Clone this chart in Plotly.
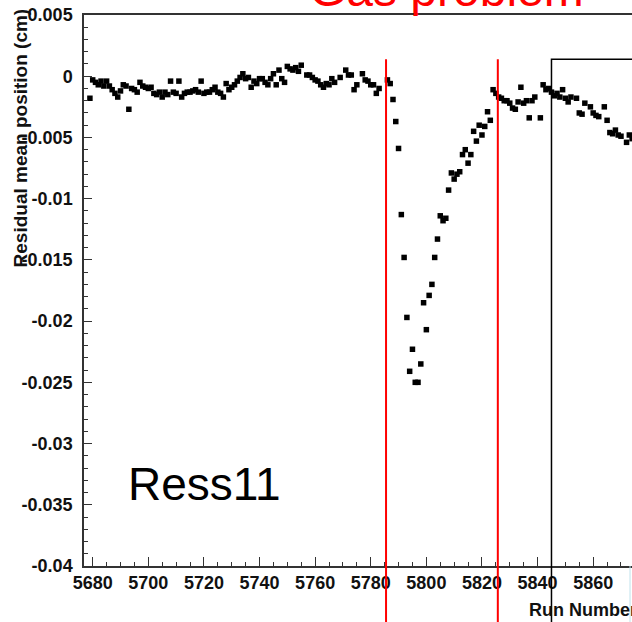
import plotly.graph_objects as go

# ---- data ----
runs = [
    5679, 5680, 5681, 5682, 5683, 5684, 5685, 5686, 5687, 5688, 5689, 5690,
    5691, 5692, 5693, 5694, 5695, 5696, 5697, 5698, 5699, 5700, 5701, 5702,
    5703, 5704, 5705, 5706, 5707, 5708, 5709, 5710, 5711, 5712, 5713, 5714,
    5715, 5716, 5717, 5718, 5719, 5720, 5721, 5722, 5723, 5724, 5725, 5726,
    5727, 5728, 5729, 5730, 5731, 5732, 5733, 5734, 5735, 5736, 5737, 5738,
    5739, 5740, 5741, 5742, 5743, 5744, 5745, 5746, 5747, 5748, 5749, 5750,
    5751, 5752, 5753, 5754, 5755, 5757, 5758, 5759, 5760, 5761, 5762, 5763,
    5764, 5765, 5766, 5767, 5769, 5771, 5772, 5773, 5774, 5775, 5777, 5778,
    5779, 5780, 5781, 5782, 5783, 5786, 5787, 5788, 5789, 5790, 5791, 5792,
    5793, 5794, 5795, 5796, 5797, 5798, 5799, 5800, 5801, 5802, 5803, 5804,
    5805, 5806, 5807, 5808, 5809, 5810, 5811, 5812, 5813, 5814, 5815, 5816,
    5817, 5818, 5819, 5820, 5821, 5822, 5823, 5824, 5825, 5826, 5827, 5828,
    5829, 5830, 5831, 5832, 5833, 5834, 5835, 5836, 5837, 5838, 5839, 5841,
    5842, 5843, 5844, 5845, 5846, 5847, 5848, 5849, 5850, 5851, 5852, 5854,
    5855, 5856, 5857, 5859, 5860, 5861, 5862, 5864, 5865, 5866, 5867, 5868,
    5869, 5870, 5872, 5873, 5874,
]
residual_mean = [
    -0.0018, -0.0003, -0.0005, -0.0007, -0.0004, -0.0008, -0.0004, -0.0008,
    -0.0011, -0.0014, -0.0017, -0.0012, -0.0007, -0.0008, -0.0027, -0.0010,
    -0.0011, -0.0013, -0.0005, -0.0008, -0.0009, -0.0010, -0.0009, -0.0014,
    -0.0015, -0.0013, -0.0017, -0.0013, -0.0015, -0.0004, -0.0013, -0.0014,
    -0.0004, -0.0017, -0.0014, -0.0013, -0.0013, -0.0012, -0.0011, -0.0013,
    -0.0004, -0.0014, -0.0013, -0.0013, -0.0011, -0.0009, -0.0013, -0.0014,
    -0.0017, -0.0006, -0.0011, -0.0009, -0.0007, -0.0004, -0.0001, 0.0002,
    -0.0002, -0.0001, -0.0009, -0.0004, -0.0006, -0.0002, -0.0002, -0.0005,
    -0.0007, -0.0002, 0.0002, -0.0007, 0.0005, -0.0002, -0.0005, 0.0008,
    0.0006, 0.0005, 0.0007, 0.0004, 0.0009, 0.0001, 0.0001, -0.0001,
    -0.0003, -0.0004, -0.0007, -0.0009, -0.0006, -0.0007, -0.0002, -0.0005,
    -0.0001, 0.0005, 0.0001, 0.0001, -0.0011, -0.0007, 0.0002, -0.0003,
    -0.0004, -0.0007, -0.0007, -0.0014, -0.0010, -0.0003, -0.0006, -0.0019,
    -0.0037, -0.0059, -0.0113, -0.0148, -0.0197, -0.0241, -0.0223, -0.0250,
    -0.0250, -0.0235, -0.0185, -0.0207, -0.0179, -0.0170, -0.0148, -0.0133,
    -0.0114, -0.0118, -0.0116, -0.0093, -0.0079, -0.0084, -0.0080, -0.0078,
    -0.0064, -0.0060, -0.0071, -0.0064, -0.0045, -0.0053, -0.0040, -0.0048,
    -0.0041, -0.0029, -0.0036, -0.0011, -0.0014, -0.0017, -0.0018, -0.0020,
    -0.0020, -0.0022, -0.0026, -0.0027, -0.0021, -0.0009, -0.0022, -0.0020,
    -0.0034, -0.0020, -0.0017, -0.0034, -0.0007, -0.0011, -0.0010, -0.0013,
    -0.0016, -0.0014, -0.0017, -0.0011, -0.0018, -0.0021, -0.0017, -0.0018,
    -0.0030, -0.0031, -0.0022, -0.0025, -0.0030, -0.0032, -0.0033, -0.0025,
    -0.0036, -0.0046, -0.0047, -0.0044, -0.0048, -0.0049, -0.0054, -0.0048,
    -0.0051,
]

gas_problem_bounds = [5785.5, 5825.7]   # red vertical lines (run numbers)
box_start_run = 5845.0                   # black box left edge (run number)

x_tick_vals = [5680, 5700, 5720, 5740, 5760, 5780, 5800, 5820, 5840, 5860]
y_tick_vals = [-0.04, -0.035, -0.03, -0.025, -0.02, -0.015, -0.01, -0.005, 0, 0.005]
y_tick_text = ["-0.04", "-0.035", "-0.03", "-0.025", "-0.02", "-0.015",
               "-0.01", "-0.005", "0", "0.005"]

FONT = "Liberation Sans, Arial, sans-serif"
AX = "#333333"

fig = go.Figure()
fig.add_trace(go.Scatter(
    x=runs, y=residual_mean, mode="markers",
    marker=dict(symbol="square", size=5.5, color="black", line=dict(width=0)),
    showlegend=False, hoverinfo="skip",
))

fig.update_layout(
    width=632, height=622,
    margin=dict(l=84, r=0, t=15, b=56),
    paper_bgcolor="white", plot_bgcolor="white",
    font=dict(family=FONT, color="#111111"),
)

fig.update_xaxes(
    range=[5676.87, 5873.96],
    tickmode="array", tickvals=x_tick_vals,
    ticks="inside", ticklen=9, tickwidth=1, tickcolor=AX,
    minor=dict(dtick=5, tick0=5680, ticks="inside", ticklen=4, tickcolor=AX, showgrid=False),
    showline=True, linecolor=AX, linewidth=1.5, mirror=True,
    showgrid=False, zeroline=False,
    tickfont=dict(family=FONT, size=18, color="#111111", weight="bold"),
)
fig.update_yaxes(
    range=[-0.04, 0.005],
    tickmode="array", tickvals=y_tick_vals, ticktext=y_tick_text,
    ticks="inside", ticklen=8, tickwidth=1, tickcolor=AX,
    minor=dict(dtick=0.001, tick0=0, ticks="inside", ticklen=4, tickcolor=AX, showgrid=False),
    showline=True, linecolor=AX, linewidth=1.5, mirror=False,
    showgrid=False, zeroline=False,
    tickfont=dict(family=FONT, size=18, color="#111111", weight="bold"),
    ticklabelstandoff=6,
)

shapes = []
for xr in gas_problem_bounds:
    shapes.append(dict(type="line", xref="x", yref="paper", x0=xr, x1=xr,
                       y0=-0.2, y1=0.9196, line=dict(color="red", width=2)))
shapes.append(dict(type="rect", xref="x", yref="paper", x0=box_start_run, x1=5900,
                   y0=-0.2, y1=0.9196, line=dict(color="black", width=1.5),
                   fillcolor="rgba(0,0,0,0)"))
shapes.append(dict(type="line", xref="paper", yref="paper", x0=0.9964, x1=0.9964,
                   y0=-0.2, y1=0.0, line=dict(color="#bfe3ec", width=1)))
fig.update_layout(shapes=shapes)

annotations = [
    dict(text="Residual mean position (cm)", xref="paper", yref="paper",
         x=-0.115, y=0.7777, xanchor="center", yanchor="middle", textangle=-90,
         showarrow=False, font=dict(family=FONT, size=19, color="#111111", weight="bold")),
    dict(text="Gas problem", xref="paper", yref="paper",
         x=0.6606, y=1.046, xanchor="center", yanchor="middle",
         showarrow=False, font=dict(family=FONT, size=48, color="#ff0000")),
    dict(text="Ress11", xref="paper", yref="paper",
         x=0.2195, y=0.1485, xanchor="center", yanchor="middle",
         showarrow=False, font=dict(family=FONT, size=46, color="black")),
    dict(text="Run Number", xref="paper", yref="paper",
         x=0.8084, y=-0.0799, xanchor="left", yanchor="middle",
         showarrow=False, font=dict(family=FONT, size=18, color="#111111", weight="bold")),
]
fig.update_layout(annotations=annotations)

fig.write_html(
    "out.html",
    config={"displayModeBar": False},
    post_script="document.body.style.margin='0';document.body.style.overflow='hidden';",
)
